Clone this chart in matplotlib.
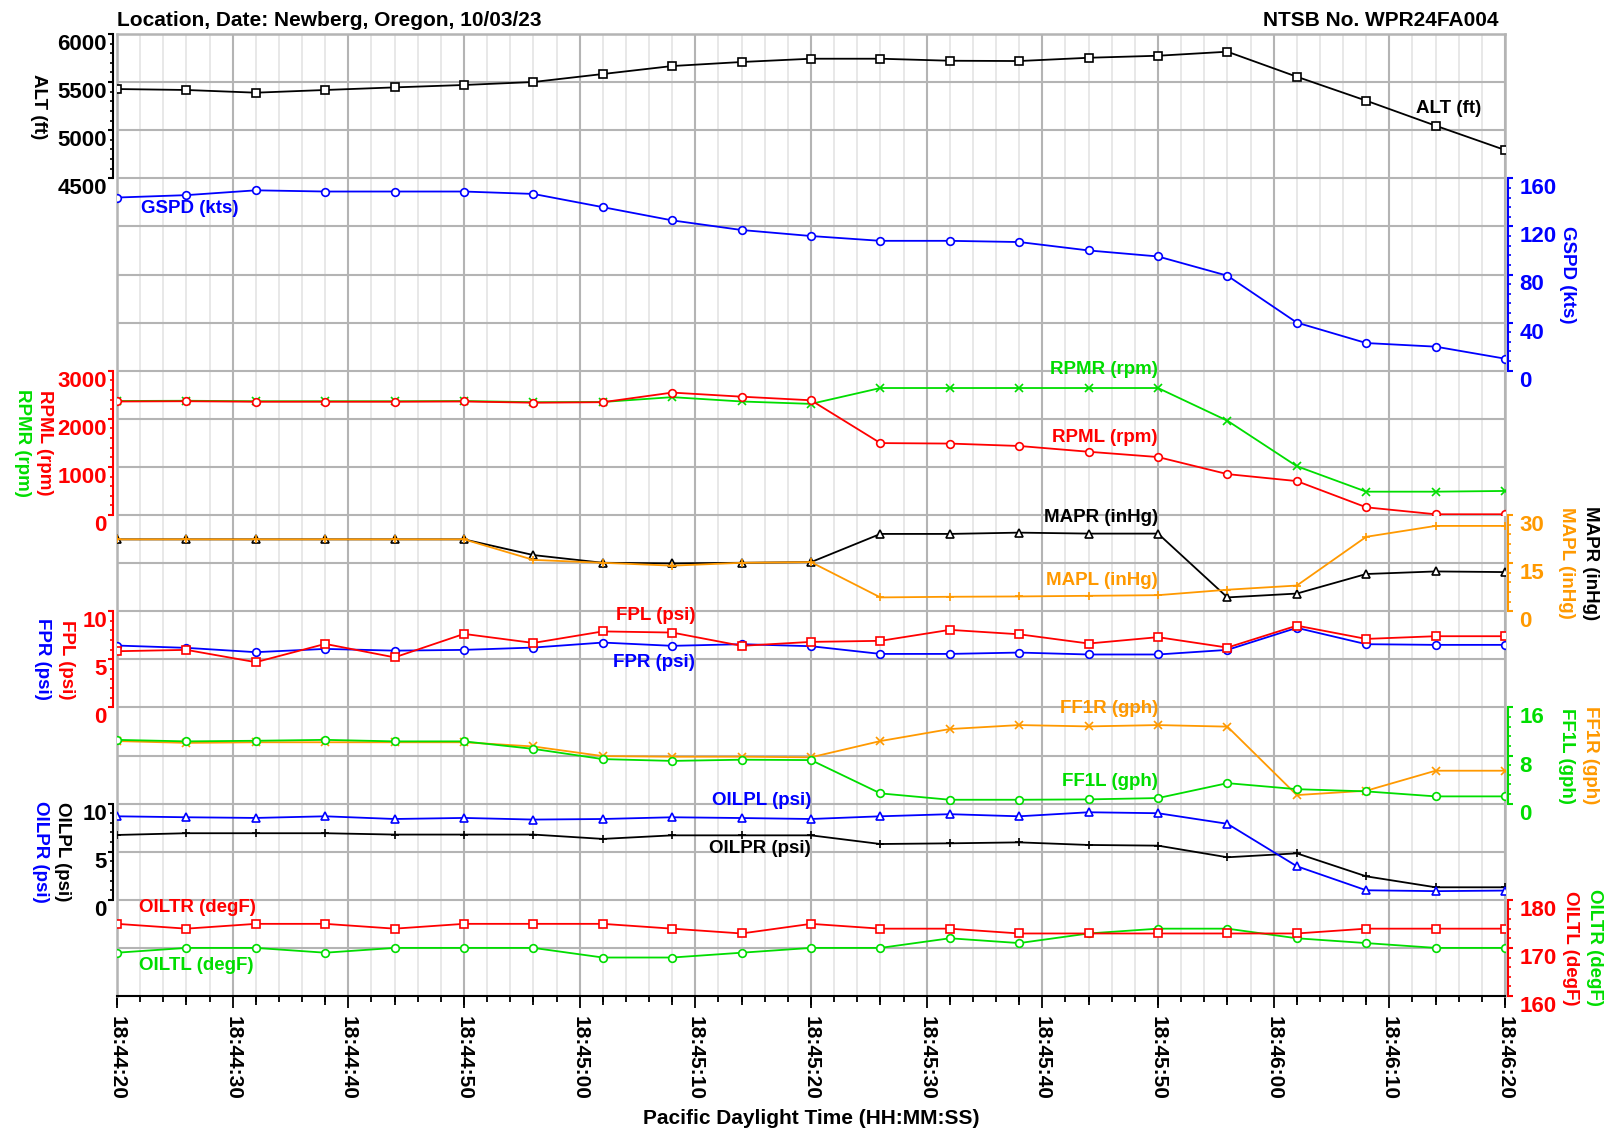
import numpy as np
import matplotlib
matplotlib.use('Agg')
import matplotlib.pyplot as plt
from matplotlib.ticker import MultipleLocator, AutoMinorLocator, FuncFormatter
from matplotlib.transforms import blended_transform_factory

plt.rcParams['font.family'] = ['Liberation Sans', 'DejaVu Sans']
plt.rcParams['font.weight'] = 'bold'
plt.rcParams['font.size'] = 13.5

# seconds after 18:44:20, one sample every 6 s
t = np.arange(0, 121, 6)

alt = [5428, 5418, 5390, 5418, 5445, 5470, 5501, 5584, 5667, 5709, 5743,
       5743, 5722, 5719, 5753, 5774, 5816, 5556, 5307, 5047, 4794]
gspd = [144, 146, 150, 149, 149, 149, 147, 136, 125, 117, 112,
        108, 108, 107, 100, 95, 79, 40, 23, 20, 10]
rpml = [2360, 2365, 2355, 2355, 2355, 2360, 2335, 2345, 2545, 2460, 2385,
        1495, 1485, 1435, 1315, 1205, 850, 705, 160, 15, 15]
rpmr = [2370, 2375, 2365, 2365, 2365, 2370, 2345, 2350, 2450, 2360, 2310,
        2640, 2640, 2640, 2640, 2640, 1960, 1015, 485, 485, 500]
mapr = [22.4, 22.4, 22.4, 22.4, 22.4, 22.4, 17.5, 15.1, 14.9, 15.1, 15.3,
        24.1, 24.1, 24.5, 24.2, 24.2, 4.3, 5.5, 11.6, 12.4, 12.2]
mapl = [22.4, 22.4, 22.4, 22.4, 22.4, 22.4, 16.0, 15.1, 14.2, 15.1, 15.3,
        4.3, 4.5, 4.6, 4.8, 5.0, 6.7, 8.0, 23.2, 26.6, 26.6]
fpl = [5.84, 5.98, 4.7, 6.6, 5.2, 7.64, 6.7, 7.9, 7.78, 6.4, 6.81,
       6.92, 8.06, 7.6, 6.64, 7.3, 6.22, 8.5, 7.12, 7.4, 7.4]
fpr = [6.43, 6.19, 5.74, 6.08, 5.9, 5.98, 6.22, 6.74, 6.4, 6.57, 6.36,
       5.56, 5.56, 5.7, 5.5, 5.5, 5.98, 8.27, 6.57, 6.5, 6.5]
ff1l = [10.6, 10.35, 10.45, 10.6, 10.35, 10.35, 9.1, 7.4, 7.1, 7.3, 7.24,
        1.7, 0.64, 0.64, 0.7, 0.92, 3.4, 2.4, 2.03, 1.2, 1.2]
ff1r = [10.4, 10.1, 10.2, 10.2, 10.2, 10.2, 9.5, 7.9, 7.8, 7.8, 7.7,
        10.4, 12.4, 13.06, 12.84, 13.06, 12.8, 1.42, 2.14, 5.47, 5.47]
oilpl = [8.68, 8.58, 8.51, 8.68, 8.4, 8.51, 8.34, 8.4, 8.58, 8.5, 8.4,
         8.68, 8.9, 8.68, 9.1, 9.0, 7.9, 3.49, 0.99, 0.9, 0.96]
oilpr = [6.74, 6.92, 6.92, 6.92, 6.78, 6.78, 6.78, 6.33, 6.7, 6.7, 6.7,
         5.8, 5.87, 5.97, 5.7, 5.63, 4.42, 4.83, 2.44, 1.3, 1.3]
oiltr = [175, 174, 175, 175, 174, 175, 175, 175, 174, 173, 175,
         174, 174, 173, 173, 173, 173, 173, 174, 174, 174]
oiltl = [169, 170, 170, 169, 170, 170, 170, 168, 168, 169, 170,
         170, 172, 171, 173, 174, 174, 172, 171, 170, 170]

BLACK, BLUE, RED = 'black', '#0000ff', '#ff0000'
GREEN, ORANGE = '#00dd00', '#ff9900'
GRID = '#b4b4b4'

W, H = 1608, 1132
L, R, T, B = 117, 1505, 34, 996
NROWS = 20
PX = 72 / 100  # points per pixel

fig = plt.figure(figsize=(W / 100, H / 100), dpi=100)
ax = fig.add_axes([L / W, 1 - B / H, (R - L) / W, (B - T) / H])
ax.set_xlim(0, 120)
ax.set_ylim(NROWS, 0)
ax.xaxis.set_major_locator(MultipleLocator(10))
ax.xaxis.set_minor_locator(MultipleLocator(2))
ax.yaxis.set_major_locator(MultipleLocator(1))
ax.grid(which='minor', axis='x', color='#e6e6e6', lw=1.3)
ax.grid(which='major', axis='x', color=GRID, lw=1.5)
ax.grid(which='major', axis='y', color=GRID, lw=1.5)
ax.tick_params(axis='y', which='both', left=False, labelleft=False)
ax.tick_params(axis='x', which='major', length=8.5, width=1.3, pad=6,
               labelrotation=270, labelsize=15)
ax.tick_params(axis='x', which='minor', length=4.5, width=1.3)


def hms(v, pos):
    s = 20 + int(round(v))
    return '18:%02d:%02d' % (44 + s // 60, s % 60)


ax.xaxis.set_major_formatter(FuncFormatter(hms))
for s in ax.spines.values():
    s.set_color(GRID)
    s.set_linewidth(1.8)
ax.spines['bottom'].set_color('black')
ax.spines['bottom'].set_linewidth(1.5)

# longer ticks at every sample time
sec = ax.secondary_xaxis('bottom')
sec.set_xticks(t)
sec.tick_params(length=6.5, width=1.3, labelbottom=False)
sec.spines['bottom'].set_visible(False)


def panel(r0, r1, lo, hi, side, color, major):
    p = ax.inset_axes([0, 1 - r1 / NROWS, 1, (r1 - r0) / NROWS])
    p.patch.set_visible(False)
    p.set_xlim(0, 120)
    p.set_ylim(lo, hi)
    p.set_xticks([])
    for k, s in p.spines.items():
        s.set_visible(k == side)
    p.spines[side].set_position(('outward', 3.5 * PX))
    p.spines[side].set_color(color)
    p.spines[side].set_linewidth(1.5)
    p.yaxis.set_ticks_position(side)
    p.set_yticks(np.arange(lo, hi + major / 2, major))
    p.yaxis.set_minor_locator(AutoMinorLocator(5))
    p.tick_params(axis='y', which='major', length=5 * PX, width=1.5,
                  colors=color, labelsize=16,
                  pad=(1.5 if side == 'left' else 6) * PX)
    p.tick_params(axis='y', which='minor', length=3 * PX, width=1.2,
                  colors=color)
    plt.setp(p.get_yticklabels(), va='top')
    return p


def series(p, y, color, marker):
    p.plot(t, y, color=color, lw=1.3, marker=marker, ms=5.5, mew=1.2,
           mfc='white' if marker in 'so^' else color, mec=color)


def axis_label(p, xpx, text, color):
    tr = blended_transform_factory(fig.transFigure, p.transAxes)
    p.text(xpx / W, 0.5, text, transform=tr, rotation=270, color=color,
           ha='center', va='center', fontsize=13.5)


p_alt = panel(0, 3, 4500, 6000, 'left', BLACK, 500)
series(p_alt, alt, BLACK, 's')
p_alt.text(112.3, 5230, 'ALT (ft)', color=BLACK, ha='left', va='center')
axis_label(p_alt, 39, 'ALT (ft)', BLACK)

p_gs = panel(3, 7, 0, 160, 'right', BLUE, 40)
series(p_gs, gspd, BLUE, 'o')
p_gs.text(2.1, 134.8, 'GSPD (kts)', color=BLUE, ha='left', va='center')
axis_label(p_gs, 1568, 'GSPD (kts)', BLUE)

p_rpm = panel(7, 10, 0, 3000, 'left', RED, 1000)
series(p_rpm, rpmr, GREEN, 'x')
series(p_rpm, rpml, RED, 'o')
p_rpm.text(90, 3020, 'RPMR (rpm)', color=GREEN, ha='right', va='center')
p_rpm.text(90, 1610, 'RPML (rpm)', color=RED, ha='right', va='center')
axis_label(p_rpm, 44, 'RPML (rpm)', RED)
axis_label(p_rpm, 22, 'RPMR (rpm)', GREEN)

p_map = panel(10, 12, 0, 30, 'right', ORANGE, 15)
series(p_map, mapr, BLACK, '^')
series(p_map, mapl, ORANGE, '+')
p_map.text(90, 29.25, 'MAPR (inHg)', color=BLACK, ha='right', va='center')
p_map.text(90, 9.45, 'MAPL (inHg)', color=ORANGE, ha='right', va='center')
axis_label(p_map, 1567, 'MAPL (inHg)', ORANGE)
axis_label(p_map, 1591, 'MAPR (inHg)', BLACK)

p_fp = panel(12, 14, 0, 10, 'left', RED, 5)
series(p_fp, fpr, BLUE, 'o')
series(p_fp, fpl, RED, 's')
p_fp.text(50, 9.55, 'FPL (psi)', color=RED, ha='right', va='center')
p_fp.text(50, 4.7, 'FPR (psi)', color=BLUE, ha='right', va='center')
axis_label(p_fp, 67, 'FPL (psi)', RED)
axis_label(p_fp, 43, 'FPR (psi)', BLUE)

p_ff = panel(14, 16, 0, 16, 'right', GREEN, 8)
series(p_ff, ff1r, ORANGE, 'x')
series(p_ff, ff1l, GREEN, 'o')
p_ff.text(90, 15.76, 'FF1R (gph)', color=ORANGE, ha='right', va='center')
p_ff.text(90, 3.6, 'FF1L (gph)', color=GREEN, ha='right', va='center')
axis_label(p_ff, 1567, 'FF1L (gph)', GREEN)
axis_label(p_ff, 1591, 'FF1R (gph)', ORANGE)

p_op = panel(16, 18, 0, 10, 'left', BLACK, 5)
series(p_op, oilpr, BLACK, '+')
series(p_op, oilpl, BLUE, '^')
p_op.text(60, 10.3, 'OILPL (psi)', color=BLUE, ha='right', va='center')
p_op.text(60, 5.3, 'OILPR (psi)', color=BLACK, ha='right', va='center')
axis_label(p_op, 63, 'OILPL (psi)', BLACK)
axis_label(p_op, 40, 'OILPR (psi)', BLUE)

p_ot = panel(18, 20, 160, 180, 'right', RED, 10)
series(p_ot, oiltl, GREEN, 'o')
series(p_ot, oiltr, RED, 's')
p_ot.text(1.9, 178.4, 'OILTR (degF)', color=RED, ha='left', va='center')
p_ot.text(1.9, 166.3, 'OILTL (degF)', color=GREEN, ha='left', va='center')
axis_label(p_ot, 1571, 'OILTL (degF)', RED)
axis_label(p_ot, 1595, 'OILTR (degF)', GREEN)

fig.text(L / W, 1 - 20 / H, 'Location, Date: Newberg, Oregon, 10/03/23',
         ha='left', va='center', fontsize=15)
fig.text(1499 / W, 1 - 20 / H, 'NTSB No. WPR24FA004',
         ha='right', va='center', fontsize=15)
fig.text((L + R) / 2 / W, 1 - 1118 / H, 'Pacific Daylight Time (HH:MM:SS)',
         ha='center', va='center', fontsize=15)

fig.savefig('out.png', dpi=100)
